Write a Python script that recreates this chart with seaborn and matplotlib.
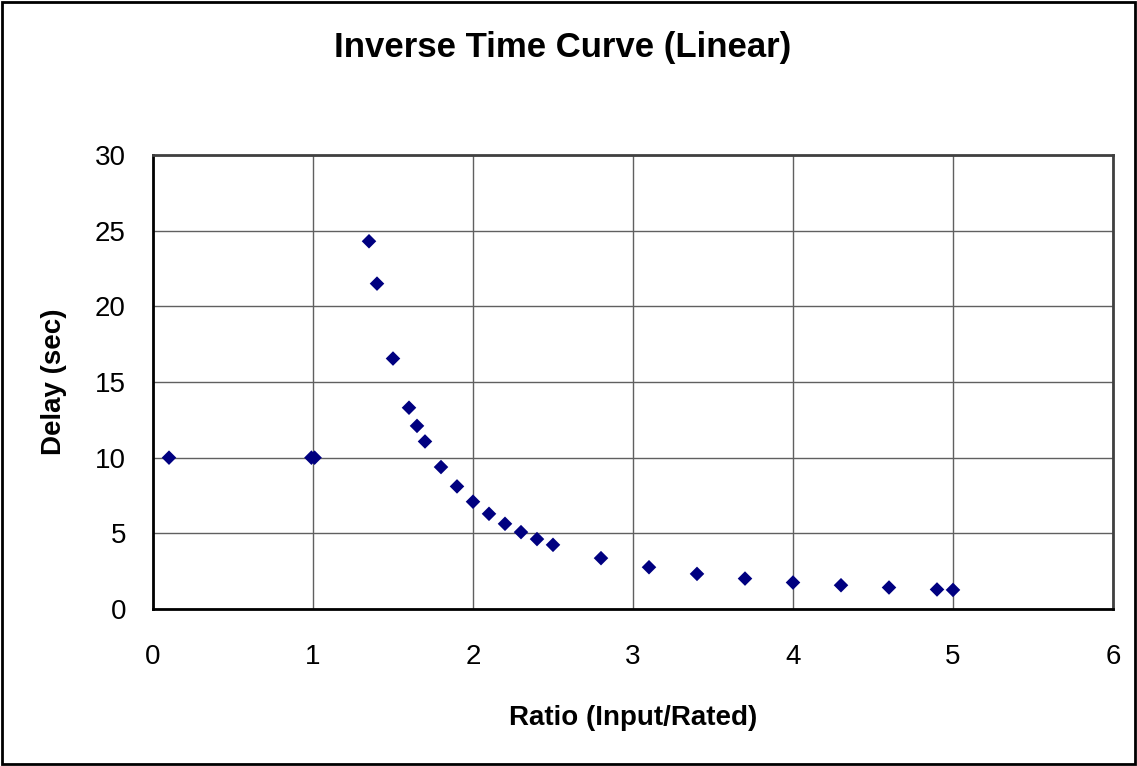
import matplotlib
matplotlib.use("Agg")
import matplotlib.pyplot as plt
import seaborn as sns
import pandas as pd
from matplotlib.patches import Rectangle

# values
ratio = [0.1, 0.99, 1.01, 1.35, 1.4, 1.5, 1.6, 1.65, 1.7, 1.8, 1.9, 2.0,
         2.1, 2.2, 2.3, 2.4, 2.5, 2.8, 3.1, 3.4, 3.7, 4.0, 4.3, 4.6, 4.9, 5.0]
delay = [10.0, 10.0, 10.0, 24.3, 21.5, 16.55, 13.3, 12.1, 11.07, 9.38, 8.1, 7.09,
         6.29, 5.63, 5.08, 4.62, 4.24, 3.36, 2.76, 2.32, 2.01, 1.75, 1.57, 1.42, 1.29, 1.26]
xticks = [0, 1, 2, 3, 4, 5, 6]
yticks = [0, 5, 10, 15, 20, 25, 30]

df = pd.DataFrame({"ratio": ratio, "delay": delay})

sns.set_style("white")
plt.rcParams['font.family'] = ['Liberation Sans', 'DejaVu Sans']
plt.rcParams['text.color'] = 'black'
plt.rcParams['axes.labelcolor'] = 'black'

fig = plt.figure(figsize=(11.37, 7.66), dpi=100)
ax = fig.add_axes([153/1137, 1 - 609/766, 960/1137, 454/766])

sns.scatterplot(data=df, x="ratio", y="delay", ax=ax, marker="D", s=55,
                color="#000080", edgecolor="none", zorder=3)

ax.set_xlim(0, 6)
ax.set_ylim(0, 30)
ax.set_xticks(xticks)
ax.set_yticks(yticks)
ax.grid(True, color="#606060", linewidth=1)
ax.set_axisbelow(True)
ax.tick_params(axis="both", direction="out", length=6.5, width=1, color="#808080",
               labelcolor="black", labelsize=20)
ax.tick_params(axis="x", pad=19)
ax.tick_params(axis="y", pad=13)

for side in ["left", "bottom"]:
    ax.spines[side].set_color("black")
    ax.spines[side].set_linewidth(2)
for side in ["top", "right"]:
    ax.spines[side].set_color("#404040")
    ax.spines[side].set_linewidth(2)

ax.set_xlabel("Ratio (Input/Rated)", fontsize=20, fontweight="bold", labelpad=25)
ax.set_ylabel("Delay (sec)", fontsize=20, fontweight="bold", labelpad=20)
fig.text(563/1137, 1 - 47/766, "Inverse Time Curve (Linear)", ha="center", va="center",
         fontsize=25, fontweight="bold")

fig.patches.append(Rectangle((0.0015, 0.002), 0.997, 0.996, transform=fig.transFigure,
                             fill=False, edgecolor="black", linewidth=2))

fig.savefig("out.png", dpi=100)
